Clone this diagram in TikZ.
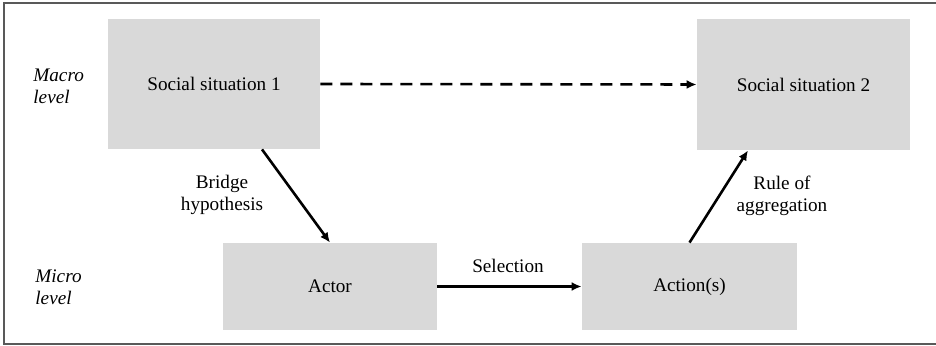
\documentclass[tikz,border=0pt]{standalone}
\usepackage{fontspec}
\setmainfont{Liberation Serif}
\usetikzlibrary{arrows.meta}
\begin{document}
\begin{tikzpicture}[x=0.5pt,y=-0.5pt,font=\fontsize{9.6}{11}\selectfont]
\tikzstyle{block} = [rectangle, fill=boxgray, inner sep=0pt, text centered]
\tikzstyle{arrow} = [line width=1.3pt,-{Latex[length=5pt,width=4.5pt]}]
\tikzstyle{note} = [align=center, inner sep=0pt]
\tikzstyle{tier} = [align=left, inner sep=0pt, anchor=west, font=\fontsize{9.6}{11}\selectfont\itshape]
\definecolor{boxgray}{HTML}{D9D9D9}
\useasboundingbox (0,0) rectangle (936,346);
\draw [line width=0.9pt, draw=black!65] (940,3) -- (4,3) -- (4,344) -- (940,344);
%
\node (ss1) [block, minimum width=106pt, minimum height=65pt] at (214,84) {Social situation 1};
\node (ss2) [block, minimum width=106.5pt, minimum height=65.5pt] at (803.5,84.5) {Social situation 2};
\node (actor) [block, minimum width=107pt, minimum height=43.5pt] at (330,286.5) {Actor};
\node (action) [block, minimum width=107.5pt, minimum height=43.5pt] at (689.5,286.5) {Action(s)};
\node (macro) [tier] at (33,86) {Macro\\level};
\node (micro) [tier] at (35,287) {Micro\\level};
\node (bridge) [note] at (222,195) {Bridge\\hypothesis};
\node (rule) [note] at (782,196) {Rule of\\aggregation};
\node (selection) [note] at (508,266) {Selection};
%
\draw [arrow, dash pattern=on 6pt off 4pt] (ss1.east) -- (ss2.west);
\draw [arrow] ([xshift=24pt]ss1.south) -- (actor.north);
\draw [arrow] (actor.east) -- (action.west);
\draw [arrow] (action.north) -- ([xshift=-27.75pt]ss2.south);
\end{tikzpicture}
\end{document}
